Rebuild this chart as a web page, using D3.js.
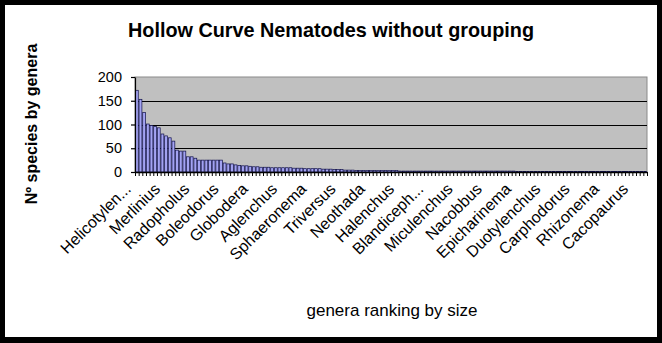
<!DOCTYPE html>
<html>
<head>
<meta charset="utf-8">
<script src="https://cdn.jsdelivr.net/npm/d3@7"></script>
<style>
  html, body { margin: 0; padding: 0; background: #fff; }
  svg { display: block; font-family: "Liberation Sans", Arial, sans-serif; }
</style>
</head>
<body>
<svg id="chart" width="662" height="343"></svg>
<script>
// Species count per nematode genus, ranked from largest to smallest genus
const speciesCounts = [
  172, 153, 125, 101, 98, 96, 93, 80, 76, 72,
  65, 46, 44, 44, 32, 32, 29, 25, 25, 25,
  25, 25, 25, 25, 19, 17, 17, 15, 14, 13,
  13, 12, 11, 11, 10, 10, 10, 9, 9, 9,
  9, 9, 9, 8, 8, 8, 7, 7, 7, 7,
  7, 6, 6, 6, 5, 5, 5, 4, 4, 4,
  3, 3, 3, 3, 3, 3, 3, 3, 3, 3,
  3, 3, 2, 2, 2, 2, 2, 2, 2, 2,
  2, 2, 2, 2, 2, 2, 2, 2, 2, 2,
  2, 2, 2, 2, 2, 2, 2, 2, 2, 2,
  2, 2, 2, 2, 1, 1, 1, 1, 1, 1,
  1, 1, 1, 1, 1, 1, 1, 1, 1, 1,
  1, 1, 1, 1, 1, 1, 1, 1, 1, 1,
  1, 1, 1, 1, 1, 1, 1, 1, 1, 1
];

// Genus names shown on the axis (every 8th rank, starting at rank 1)
const labelledGenera = [
  "Helicotylen...", "Merlinius", "Radopholus", "Boleodorus", "Globodera",
  "Aglenchus", "Sphaeronema", "Triversus", "Neothada", "Halenchus",
  "Blandiceph...", "Miculenchus", "Nacobbus", "Epicharinema", "Duotylenchus",
  "Carphodorus", "Rhizonema", "Cacopaurus"
];
const labelEvery = 8;

const yTicks = [0, 50, 100, 150, 200];
const gridValues = [50, 100, 150];

const titleText = "Hollow Curve Nematodes without grouping";
const yTitleText = "Nº species by genera";
const xTitleText = "genera ranking by size";

const svg = d3.select("#chart");
const W = 662, H = 343;

// black frame around the chart area
svg.append("rect").attr("x", 0).attr("y", 0).attr("width", W).attr("height", H).attr("fill", "#000");
svg.append("rect").attr("x", 5).attr("y", 5).attr("width", W - 10).attr("height", H - 11).attr("fill", "#fff");

const plot = { left: 135, right: 647, top: 77, bottom: 172 };
const ranks = d3.range(speciesCounts.length);

const x = d3.scaleBand()
  .domain(ranks)
  .range([plot.left, plot.right])
  .paddingInner(0.22)
  .paddingOuter(0.11);

// category boundaries for the tick marks
const xEdge = d3.scaleLinear()
  .domain([0, speciesCounts.length])
  .range([plot.left, plot.right]);

const y = d3.scaleLinear()
  .domain([0, 200])
  .range([plot.bottom, plot.top]);

// plot background
svg.append("rect")
  .attr("x", plot.left).attr("y", plot.top)
  .attr("width", plot.right - plot.left).attr("height", plot.bottom - plot.top)
  .attr("fill", "#c0c0c0")
  .attr("stroke", "#8a8a8a").attr("stroke-width", 1);

// horizontal gridlines
svg.append("g").selectAll("line").data(gridValues).join("line")
  .attr("x1", plot.left).attr("x2", plot.right)
  .attr("y1", d => Math.round(y(d)) + 0.5).attr("y2", d => Math.round(y(d)) + 0.5)
  .attr("stroke", "#000").attr("stroke-width", 1.2);

// bars
svg.append("g").selectAll("rect").data(speciesCounts).join("rect")
  .attr("x", (d, i) => x(i))
  .attr("y", d => y(d))
  .attr("width", x.bandwidth())
  .attr("height", d => y(0) - y(d))
  .attr("fill", "#a3a3f2")
  .attr("stroke", "#10104a")
  .attr("stroke-width", 0.7);

// y axis
const yAxis = svg.append("g")
  .attr("transform", `translate(${plot.left},0)`)
  .call(d3.axisLeft(y).tickValues(yTicks).tickSize(4).tickPadding(9).tickSizeOuter(0));
yAxis.select(".domain").attr("stroke", "#000").attr("stroke-width", 1.2);
yAxis.selectAll(".tick line").attr("stroke", "#000").attr("stroke-width", 1.2);
yAxis.selectAll(".tick text")
  .attr("font-size", 14.5).attr("fill", "#000")
  .attr("font-family", "Liberation Sans, Arial, sans-serif");

// x axis with a tick at every category boundary
const xAxis = svg.append("g")
  .attr("transform", `translate(0,${plot.bottom})`)
  .call(d3.axisBottom(xEdge).tickValues(d3.range(speciesCounts.length + 1)).tickFormat("").tickSize(4).tickSizeOuter(0));
xAxis.select(".domain").attr("stroke", "#000").attr("stroke-width", 1.3);
xAxis.selectAll(".tick line").attr("stroke", "#000").attr("stroke-width", 1);

// rotated genus labels
svg.append("g").selectAll("text").data(labelledGenera).join("text")
  .attr("transform", (d, i) => {
    const cx = x(i * labelEvery) + x.bandwidth() / 2 - 8;
    return `translate(${cx},${plot.bottom + 15}) rotate(-45)`;
  })
  .attr("text-anchor", "end")
  .attr("dominant-baseline", "middle")
  .attr("font-size", 16)
  .attr("fill", "#000")
  .text(d => d);

// titles
svg.append("text")
  .attr("x", 331).attr("y", 37)
  .attr("text-anchor", "middle")
  .attr("font-size", 21).attr("font-weight", "bold")
  .attr("textLength", 406).attr("lengthAdjust", "spacingAndGlyphs")
  .text(titleText);

svg.append("text")
  .attr("transform", "translate(37,124) rotate(-90)")
  .attr("text-anchor", "middle")
  .attr("font-size", 16).attr("font-weight", "bold")
  .text(yTitleText);

svg.append("text")
  .attr("x", 392).attr("y", 316)
  .attr("text-anchor", "middle")
  .attr("font-size", 17)
  .text(xTitleText);
</script>
</body>
</html>
